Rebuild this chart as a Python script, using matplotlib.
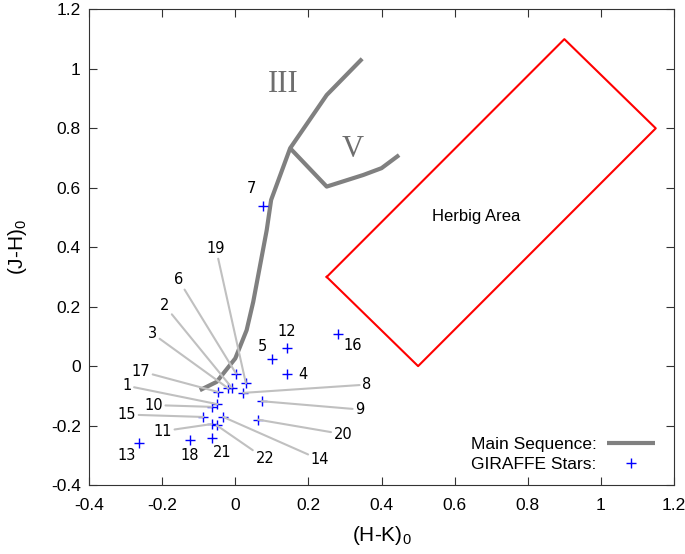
import matplotlib.pyplot as plt

plt.rcParams['font.family'] = ['Liberation Sans', 'DejaVu Sans']
plt.rcParams['mathtext.default'] = 'regular'

# main sequence, giant branch (III) and dwarf branch (V)
ms_hk = [-0.097, -0.051, 0.0, 0.031, 0.049, 0.086, 0.098, 0.150, 0.25, 0.347]
ms_jh = [-0.081, -0.053, 0.026, 0.121, 0.216, 0.458, 0.559, 0.733, 0.912, 1.034]
v_hk = [0.150, 0.25, 0.35, 0.40, 0.448]
v_jh = [0.733, 0.604, 0.643, 0.666, 0.710]

# Herbig area corners
herbig_hk = [0.25, 0.5, 1.15, 0.9, 0.25]
herbig_jh = [0.30, 0.0, 0.80, 1.10, 0.30]

# GIRAFFE stars 1..22
star_id = list(range(1, 23))
star_hk = [-0.049, -0.010, -0.019, 0.141, 0.101, 0.002, 0.075, 0.022, 0.072, -0.065, -0.065,
           0.142, -0.263, -0.033, -0.088, 0.280, -0.047, -0.124, 0.029, 0.062, -0.065, -0.051]
star_jh = [-0.128, -0.072, -0.075, -0.027, 0.024, -0.025, 0.540, -0.090, -0.118, -0.137, -0.195,
           0.062, -0.260, -0.171, -0.171, 0.108, -0.087, -0.247, -0.058, -0.180, -0.243, -0.199]
label_hk = [-0.297, -0.194, -0.227, 0.184, 0.075, -0.156, 0.045, 0.360, 0.341, -0.224, -0.199,
            0.140, -0.297, 0.232, -0.297, 0.320, -0.259, -0.124, -0.053, 0.295, -0.037, 0.081]
label_jh = [-0.066, 0.205, 0.110, -0.027, 0.067, 0.292, 0.596, -0.062, -0.146, -0.131, -0.219,
            0.115, -0.300, -0.315, -0.163, 0.071, -0.017, -0.300, 0.396, -0.229, -0.292, -0.311]
# stars whose label sits right next to them (no leader line)
no_leader = [4, 5, 7, 12, 13, 16, 18, 21]

fig = plt.figure(figsize=(6.85, 5.54), dpi=100)
ax = fig.add_axes([0.130, 0.1245, 0.854, 0.8585])

for i, n in enumerate(star_id):
    if n in no_leader:
        ax.text(label_hk[i], label_jh[i], str(n), fontsize=10.5, family='DejaVu Sans',
                ha='center', va='center')
    else:
        ax.annotate(str(n), xy=(star_hk[i], star_jh[i]), xytext=(label_hk[i], label_jh[i]),
                    fontsize=10.5, family='DejaVu Sans', ha='center', va='center',
                    arrowprops=dict(arrowstyle='-', color='#c0c0c0', lw=1.5,
                                    shrinkA=0, shrinkB=0))

ax.plot(ms_hk, ms_jh, color='#808080', lw=3, solid_capstyle='butt',
        label='Main Sequence:')
ax.plot(v_hk, v_jh, color='#808080', lw=3, solid_capstyle='butt')
ax.plot(herbig_hk, herbig_jh, color='#ff0000', lw=1.5)
ax.plot(star_hk, star_jh, '+', color='#0000ff', ms=7, mew=1.0, ls='none',
        label='GIRAFFE Stars:')

ax.text(0.13, 0.946, 'III', family='Liberation Serif', fontsize=22, color='#6e6e6e',
        ha='center', va='center')
ax.text(0.32, 0.73, 'V', family='Liberation Serif', fontsize=22, color='#6e6e6e',
        ha='center', va='center')
ax.text(0.66, 0.505, 'Herbig Area', fontsize=12, ha='center', va='center')

ax.set_xlim(-0.4, 1.2)
ax.set_ylim(-0.4, 1.2)
ticks = [-0.4, -0.2, 0, 0.2, 0.4, 0.6, 0.8, 1, 1.2]
tick_labels = ['-0.4', '-0.2', '0', '0.2', '0.4', '0.6', '0.8', '1', '1.2']
ax.set_xticks(ticks)
ax.set_yticks(ticks)
ax.set_xticklabels(tick_labels)
ax.set_yticklabels(tick_labels)
ax.tick_params(direction='in', top=True, right=True, length=6, labelsize=12.5,
               color='#333333')
ax.tick_params(axis='x', pad=9)
ax.tick_params(axis='y', pad=6)
for s in ax.spines.values():
    s.set_color('#333333')
ax.set_xlabel('(H-K)$_0$', fontsize=15, labelpad=8)
ax.set_ylabel('(J-H)$_0$', fontsize=15, labelpad=16)

ax.legend(loc='lower right', bbox_to_anchor=(0.995, -0.006), frameon=False,
          markerfirst=False, fontsize=12.5, handlelength=2.8, handletextpad=0.6,
          borderaxespad=0.5, labelspacing=0.3)

fig.savefig('out.png', dpi=100)
